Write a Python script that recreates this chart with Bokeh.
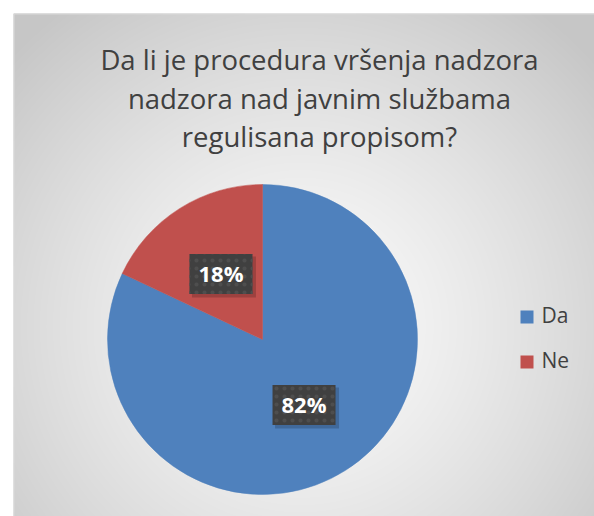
import numpy as np
from bokeh.plotting import figure
from bokeh.models import ColumnDataSource, Range1d
from bokeh.core.properties import value
from bokeh.embed import file_html
from bokeh.resources import INLINE

# ---- data ----
title_lines = ["Da li je procedura vršenja nadzora",
               "nadzora nad javnim službama",
               "regulisana propisom?"]
categories = ["Da", "Ne"]
shares = [82, 18]
colors = ["#4f81bd", "#c0504d"]

# ---- figure (data units == pixels, y up) ----
W, H = 594, 516
p = figure(width=W, height=H, x_range=Range1d(0, W), y_range=Range1d(0, H),
           output_backend="svg", toolbar_location=None, min_border=0)
p.axis.visible = False
p.grid.visible = False
p.outline_line_color = None
p.background_fill_color = "white"
p.border_fill_color = "white"

# ---- radial gradient background ----
x0 = 13
gw, gh = W - x0, H - 13
xs = np.arange(gw) + x0 + 0.5
ys = np.arange(gh) + 0.5
X, Y = np.meshgrid(xs, ys)
cx, cy = 300, 190
d = np.hypot(X - cx, Y - cy)
t = np.clip(d / 400.0, 0, 1) ** 1.3
v = (252 - 54 * t).astype(np.uint32)
img = (np.uint32(255) << np.uint32(24)) | (v << np.uint32(16)) | (v << np.uint32(8)) | v
p.image_rgba(image=[img.astype(np.uint32)], x=x0, y=0, dw=gw, dh=gh)
p.quad(left=[x0 + 0.5], right=[W + 5], bottom=[-5], top=[gh - 0.5],
       fill_color=None, line_color="#d9d9d9", line_width=1)

# ---- title ----
p.text(x=[319] * len(title_lines), y=[457 - 38.5 * i for i in range(len(title_lines))],
       text=title_lines, text_align="center", text_baseline="alphabetic",
       text_font=value("Open Sans"), text_font_size="27.5px", text_color="#404040")

# ---- pie ----
pcx, pcy, r = 262, 177, 155
total = float(sum(shares))
fr = np.array(shares) / total
cum = np.concatenate([[0], np.cumsum(fr)])
start = np.pi / 2 - 2 * np.pi * cum[1:]
end = np.pi / 2 - 2 * np.pi * cum[:-1]
mid = np.pi / 2 - 2 * np.pi * (cum[:-1] + fr / 2)
src = ColumnDataSource(dict(cat=categories, start=start, end=end, color=colors))
p.wedge(x=pcx, y=pcy, radius=r, start_angle="start", end_angle="end",
        fill_color="color", line_color="color", line_width=0.5, source=src)

# ---- data labels ----
lx = pcx + 0.5 * r * np.cos(mid)
ly = pcy + 0.5 * r * np.sin(mid)
labels = [f"{s}%" for s in shares]
p.rect(x=lx + 3, y=ly - 3, width=64, height=41, fill_color="black", fill_alpha=0.18, line_color=None)
p.rect(x=lx, y=ly, width=63, height=40, fill_color="#404040", line_color=None,
       hatch_pattern="dot", hatch_color="#4e4e4e", hatch_scale=8, hatch_weight=2)
p.text(x=lx, y=ly + 1, text=labels, text_align="center", text_baseline="middle",
       text_font=value("Open Sans"), text_font_size="22px", text_font_style="bold",
       text_color="white")

# ---- legend ----
leg_y = [199.5 - 45 * i for i in range(len(categories))]
p.rect(x=[526.5] * len(categories), y=leg_y, width=13, height=13,
       fill_color=colors, line_color=None)
p.text(x=[541] * len(categories), y=[v + 2.5 for v in leg_y], text=categories,
       text_align="left", text_baseline="middle", text_font=value("Open Sans"),
       text_font_size="21px", text_color="#404040")

open("out.html", "w").write(file_html(p, INLINE))
